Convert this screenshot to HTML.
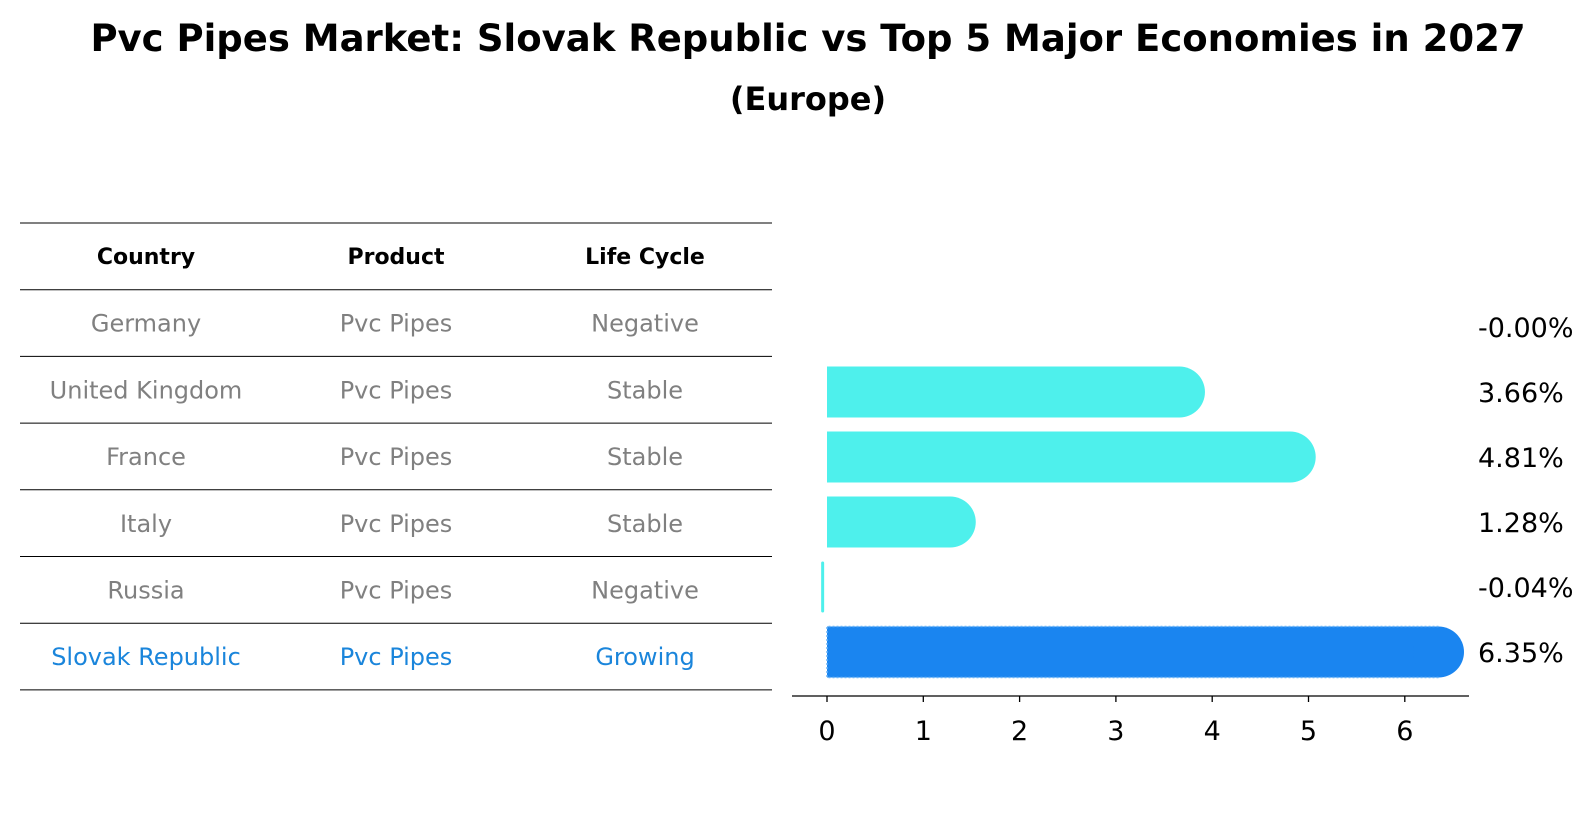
<!DOCTYPE html>
<html><head><meta charset="utf-8"><style>
body{margin:0;background:#fff;font-family:"DejaVu Sans","Liberation Sans",sans-serif;}
svg text{font-family:"DejaVu Sans","Liberation Sans",sans-serif;}
</style></head><body>
<svg id="c" width="1596" height="823" xmlns="http://www.w3.org/2000/svg">
<text x="808" y="51" font-size="37" font-weight="bold" text-anchor="middle">Pvc Pipes Market: Slovak Republic vs Top 5 Major Economies in 2027</text>
<text x="808" y="110" font-size="32" font-weight="bold" text-anchor="middle">(Europe)</text>
<g id="tbl"></g>
<g id="bars"></g>
</svg>
<script>
const countries=["Germany","United Kingdom","France","Italy","Russia","Slovak Republic"];
const products=["Pvc Pipes","Pvc Pipes","Pvc Pipes","Pvc Pipes","Pvc Pipes","Pvc Pipes"];
const lifecycles=["Negative","Stable","Stable","Stable","Negative","Growing"];
const values=[-0.00,3.66,4.81,1.28,-0.04,6.35];
const labels=["-0.00%","3.66%","4.81%","1.28%","-0.04%","6.35%"];
const ticks=[0,1,2,3,4,5,6];
const NS="http://www.w3.org/2000/svg";
function mk(t,a,p,txt){const e=document.createElementNS(NS,t);for(const k in a)e.setAttribute(k,a[k]);if(txt!==undefined)e.textContent=txt;p.appendChild(e);return e;}
const tbl=document.getElementById('tbl'),bars=document.getElementById('bars');
const lineY=i=>223+i*66.7;
const rowY=i=>327+i*65;
const xs=v=>827+v*96.3;
for(let i=0;i<8;i++){const l=mk('line',{x1:20,x2:772,y1:lineY(i),y2:lineY(i),stroke:'#000','stroke-width':1},tbl);

}
const cx=[146,396,645];
["Country","Product","Life Cycle"].forEach((h,j)=>{const t=mk('text',{x:cx[j],y:264,'font-size':22,'font-weight':'bold','text-anchor':'middle'},tbl,h);

});
for(let i=0;i<countries.length;i++){const col=i===5?'#1a85db':'#808080';const y=lineY(i+1)+42;
[countries[i],products[i],lifecycles[i]].forEach((s,j)=>{const t=mk('text',{x:cx[j],y:y,'font-size':24,fill:col,'text-anchor':'middle'},tbl,s);

});}
const h=51;
for(let i=0;i<values.length;i++){const v=values[i],y=rowY(i);const last=i===5;const col=last?'#1a85f0':'#4ef0ec';
if(Math.abs(v)>=0.005){const x0=xs(Math.min(0,v)),x1=xs(Math.max(0,v));
if(v>0.1){const g=mk('g',{},bars);


mk('rect',{x:x0,y:y-h/2,width:x1-x0,height:h,fill:col},g);
mk('circle',{cx:x1,cy:y,r:h/2,fill:col},g);
if(last)mk('path',{d:`M${x1},${y-h/2} H${x0} V${y+h/2} H${x1}`,fill:'none',stroke:'#6ab4f7','stroke-width':1.5,'stroke-dasharray':'2 2'},g);}
else{const r=mk('rect',{x:x0-2,y:y-h/2,width:3,height:h,rx:1.5,fill:col},bars);

}}
const t=mk('text',{x:1478,y:y+10,'font-size':27},bars,labels[i]);

}
const ax=mk('line',{x1:792,x2:1469,y1:696,y2:696,stroke:'#000','stroke-width':1.3},bars);


ticks.forEach(v=>{const tk=mk('line',{x1:xs(v),x2:xs(v),y1:696,y2:702,stroke:'#000','stroke-width':1.3},bars);


const tl=mk('text',{x:xs(v),y:740,'font-size':27,'text-anchor':'middle'},bars,String(v));

});
</script>
</body></html>
